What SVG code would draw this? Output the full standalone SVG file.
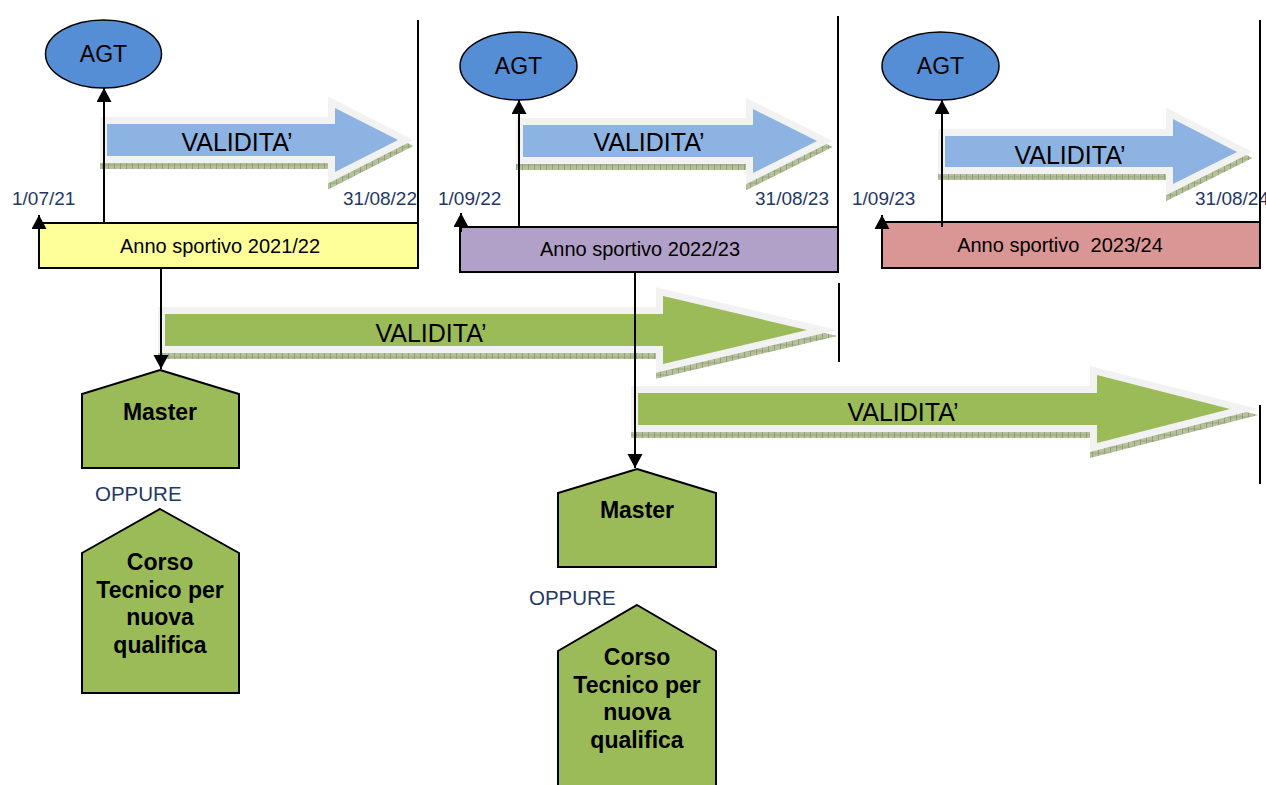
<svg xmlns="http://www.w3.org/2000/svg" width="1266" height="785" viewBox="0 0 1266 785">
<defs>
<style>
.arrow-out{stroke:#f2f2f2;stroke-width:14;stroke-linejoin:miter;stroke-miterlimit:10;paint-order:stroke}
.shadow{fill:url(#hatch);stroke:url(#hatch);stroke-width:14;stroke-linejoin:miter;stroke-miterlimit:10}
.blue{fill:#8db3e2}
.green{fill:#9bbb59}
.val{font-family:"Liberation Sans",Arial,sans-serif;font-size:25px;fill:#000;text-anchor:middle}
.agt{fill:#558ed5;stroke:#000;stroke-width:1.5}
.agtt{font-family:"Liberation Sans",Arial,sans-serif;font-size:23px;fill:#000;text-anchor:middle}
.box{stroke:#000;stroke-width:2}
.boxt{font-family:"Liberation Sans",Arial,sans-serif;font-size:20px;fill:#000;text-anchor:middle}
.date{font-family:"Liberation Sans",Arial,sans-serif;font-size:19px;fill:#1f3864}
.opp{font-family:"Liberation Sans",Arial,sans-serif;font-size:20.5px;fill:#1f3864}
.pent{fill:#9bbb59;stroke:#000;stroke-width:2}
.pt{font-family:"Liberation Sans",Arial,sans-serif;font-size:23px;font-weight:bold;fill:#000;text-anchor:middle}
.ln{stroke:#000;stroke-width:2;fill:none}
</style>
<pattern id="hatch" width="6" height="6" patternUnits="userSpaceOnUse">
<rect width="6" height="6" fill="#b5c19b"/>
<path d="M0 0V6" stroke="#6f7d55" stroke-width="1"/>
<path d="M0 3H6" stroke="#8e9b72" stroke-width="0.7"/>
</pattern>
<marker id="ah" markerUnits="userSpaceOnUse" markerWidth="16" markerHeight="16" refX="14" refY="7.5" orient="auto">
<path d="M0,0 L14,7.5 L0,15 z" fill="#000"/>
</marker>
</defs>

<g id="arrow-blue-1">
<polygon class="shadow" transform="translate(0,6)" points="107,124 335,124 335,108 398,140 335,172 335,156 107,156"/>
<polygon class="blue arrow-out" points="107,124 335,124 335,108 398,140 335,172 335,156 107,156"/>
<text class="val" x="237" y="151">VALIDITA’</text>
</g>
<g id="arrow-blue-2">
<polygon class="shadow" transform="translate(0,6)" points="523,125 753,125 753,109 817,141 753,173 753,157 523,157"/>
<polygon class="blue arrow-out" points="523,125 753,125 753,109 817,141 753,173 753,157 523,157"/>
<text class="val" x="649" y="151">VALIDITA’</text>
</g>
<g id="arrow-blue-3">
<polygon class="shadow" transform="translate(0,6)" points="945,136 1173,136 1173,119 1237,152 1173,184 1173,167 945,167"/>
<polygon class="blue arrow-out" points="945,136 1173,136 1173,119 1237,152 1173,184 1173,167 945,167"/>
<text class="val" x="1070" y="164">VALIDITA’</text>
</g>
<g id="arrow-green-1">
<polygon class="shadow" transform="translate(0,6)" points="165,314 663,314 663,296 807,330 663,364 663,346 165,346"/>
<polygon class="green arrow-out" points="165,314 663,314 663,296 807,330 663,364 663,346 165,346"/>
<text class="val" x="431" y="342">VALIDITA’</text>
</g>
<g id="arrow-green-2">
<polygon class="shadow" transform="translate(0,6)" points="638,393 1097,393 1097,375 1230,409 1097,443 1097,425 638,425"/>
<polygon class="green arrow-out" points="638,393 1097,393 1097,375 1230,409 1097,443 1097,425 638,425"/>
<text class="val" x="903" y="421">VALIDITA’</text>
</g>

<g id="agt-1"><ellipse class="agt" cx="103.5" cy="54" rx="58" ry="34"/><text class="agtt" x="103.5" y="62">AGT</text></g>
<g id="agt-2"><ellipse class="agt" cx="518.5" cy="66" rx="58.5" ry="34"/><text class="agtt" x="518.5" y="74">AGT</text></g>
<g id="agt-3"><ellipse class="agt" cx="940.5" cy="66" rx="58.5" ry="34"/><text class="agtt" x="940.5" y="74">AGT</text></g>

<g id="box-2021"><rect class="box" x="39" y="223" width="379" height="45" fill="#ffff99"/><text class="boxt" x="220" y="253">Anno sportivo 2021/22</text></g>
<g id="box-2022"><rect class="box" x="460" y="227" width="378" height="45" fill="#b1a0c7"/><text class="boxt" x="640" y="256">Anno sportivo 2022/23</text></g>
<g id="box-2023"><rect class="box" x="882" y="222" width="378" height="46" fill="#da9694"/><text class="boxt" x="1060" y="252" xml:space="preserve">Anno sportivo  2023/24</text></g>

<g id="dates">
<text class="date" x="12" y="205">1/07/21</text>
<text class="date" x="417" y="205" text-anchor="end">31/08/22</text>
<text class="date" x="438" y="205">1/09/22</text>
<text class="date" x="829" y="205" text-anchor="end">31/08/23</text>
<text class="date" x="852" y="205">1/09/23</text>
<text class="date" x="1195" y="205">31/08/24</text>
</g>

<g id="master-1"><polygon class="pent" points="160,370 239,394 239,468 82,468 82,394"/><text class="pt" x="160" y="420">Master</text></g>
<g id="oppure-1"><text class="opp" x="95" y="501">OPPURE</text></g>
<g id="corso-1"><polygon class="pent" points="160,509 239,553 239,693 82,693 82,553"/>
<text class="pt" x="160" y="570">Corso</text><text class="pt" x="160" y="598">Tecnico per</text><text class="pt" x="160" y="625">nuova</text><text class="pt" x="160" y="653">qualifica</text></g>

<g id="master-2"><polygon class="pent" points="637,469 716,493 716,567 558,567 558,493"/><text class="pt" x="637" y="518">Master</text></g>
<g id="oppure-2"><text class="opp" x="529" y="605">OPPURE</text></g>
<g id="corso-2"><polygon class="pent" points="637,605 716,651 716,792 558,792 558,651"/>
<text class="pt" x="637" y="665">Corso</text><text class="pt" x="637" y="693">Tecnico per</text><text class="pt" x="637" y="720">nuova</text><text class="pt" x="637" y="748">qualifica</text></g>

<g id="connectors">
<path class="ln" d="M104,222 V88" marker-end="url(#ah)"/>
<path class="ln" d="M519,227 V100" marker-end="url(#ah)"/>
<path class="ln" d="M942,227 V100" marker-end="url(#ah)"/>
<path class="ln" d="M39,232 V215" marker-end="url(#ah)"/>
<path class="ln" d="M461,232 V213" marker-end="url(#ah)"/>
<path class="ln" d="M882,232 V215" marker-end="url(#ah)"/>
<path class="ln" d="M161,268 V369" marker-end="url(#ah)"/>
<path class="ln" d="M635,272 V468" marker-end="url(#ah)"/>
<path class="ln" d="M418,20 V223"/>
<path class="ln" d="M838,16 V227"/>
<path class="ln" d="M1260,20 V222"/>
<path class="ln" d="M839,283 V362"/>
<path class="ln" d="M1260,405 V484"/>
</g>
</svg>
